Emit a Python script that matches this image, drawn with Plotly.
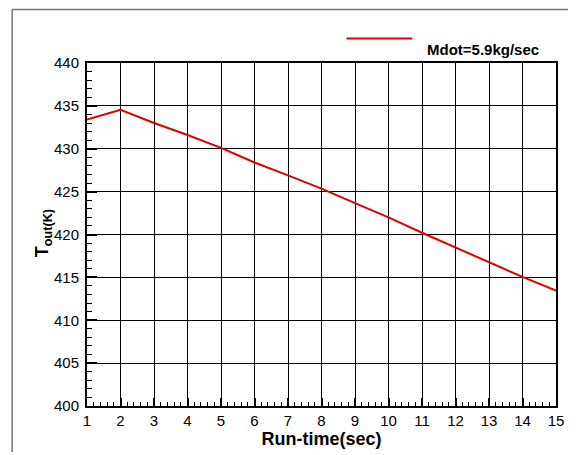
import plotly.graph_objects as go

run_time = [1, 2, 3, 4, 5, 6, 7, 8, 9, 10, 11, 12, 13, 14, 15]
t_out = [433.4, 434.55, 433.0, 431.6, 430.1, 428.4, 426.9, 425.35, 423.65, 422.0,
         420.2, 418.5, 416.8, 415.05, 413.45]
series_name = "Mdot=5.9kg/sec"
x_ticks = list(range(1, 16))
y_ticks = [400, 405, 410, 415, 420, 425, 430, 435, 440]

OFF = 8  # page body margin
W, H = 576 - OFF, 455 - OFF
L, R, T, B = 87 - OFF, 19, 63 - OFF, 42
pw, ph = W - L - R, H - T - B

def px(x):
    return (x - OFF - L) / pw

def py(y):
    return (H - B - (y - OFF)) / ph

FONT = "Liberation Sans, Arial, sans-serif"

fig = go.Figure()
fig.add_trace(go.Scatter(x=run_time, y=t_out, mode="lines", name=series_name,
                         line=dict(color="#e00000", width=2), showlegend=False))

axis_common = dict(
    showline=True, linecolor="black", linewidth=2, mirror=True,
    showgrid=True, gridcolor="black", gridwidth=1,
    ticks="inside", tickcolor="black", tickwidth=1.5,
    tickfont=dict(family=FONT, size=15, color="black"),
    zeroline=False,
)

fig.update_xaxes(**axis_common, range=[1, 15], tickvals=x_ticks, ticklen=8,
                 minor=dict(dtick=0.2, ticks="inside", ticklen=4, tickwidth=1,
                            tickcolor="black", showgrid=False),
                 title=dict(text="<b>Run-time(sec)</b>", font=dict(family=FONT, size=18, color="black"),
                            standoff=1))
fig.update_yaxes(**axis_common, range=[400, 440], tickvals=y_ticks, ticklen=10,
                 ticklabelstandoff=3,
                 minor=dict(dtick=1, ticks="inside", ticklen=5, tickwidth=1,
                            tickcolor="black", showgrid=False))

# y-axis title
fig.add_annotation(x=px(30), y=py(237), xref="paper", yref="paper",
                   text="<b>T<sub>out(K)</sub></b>", textangle=-90, showarrow=False,
                   font=dict(family=FONT, size=18, color="black"))

# legend (manual)
fig.add_shape(type="line", xref="paper", yref="paper",
              x0=px(347), x1=px(413), y0=py(38), y1=py(38),
              line=dict(color="#e00000", width=2))
fig.add_annotation(x=px(426), y=py(38), xref="paper", yref="paper",
                   text="<b>" + series_name + "</b>", showarrow=False, xanchor="left",
                   font=dict(family=FONT, size=15, color="black"))

# outer frame
fig.add_shape(type="line", xref="paper", yref="paper",
              x0=px(12), x1=px(12), y0=py(8.5), y1=py(460),
              line=dict(color="#777777", width=1.5))
fig.add_shape(type="line", xref="paper", yref="paper",
              x0=px(12), x1=px(580), y0=py(8.5), y1=py(8.5),
              line=dict(color="#777777", width=1.5))

fig.update_layout(width=W, height=H, margin=dict(l=L, r=R, t=T, b=B),
                  paper_bgcolor="white", plot_bgcolor="white",
                  font=dict(family=FONT, color="black"))

fig.write_html("out.html")
